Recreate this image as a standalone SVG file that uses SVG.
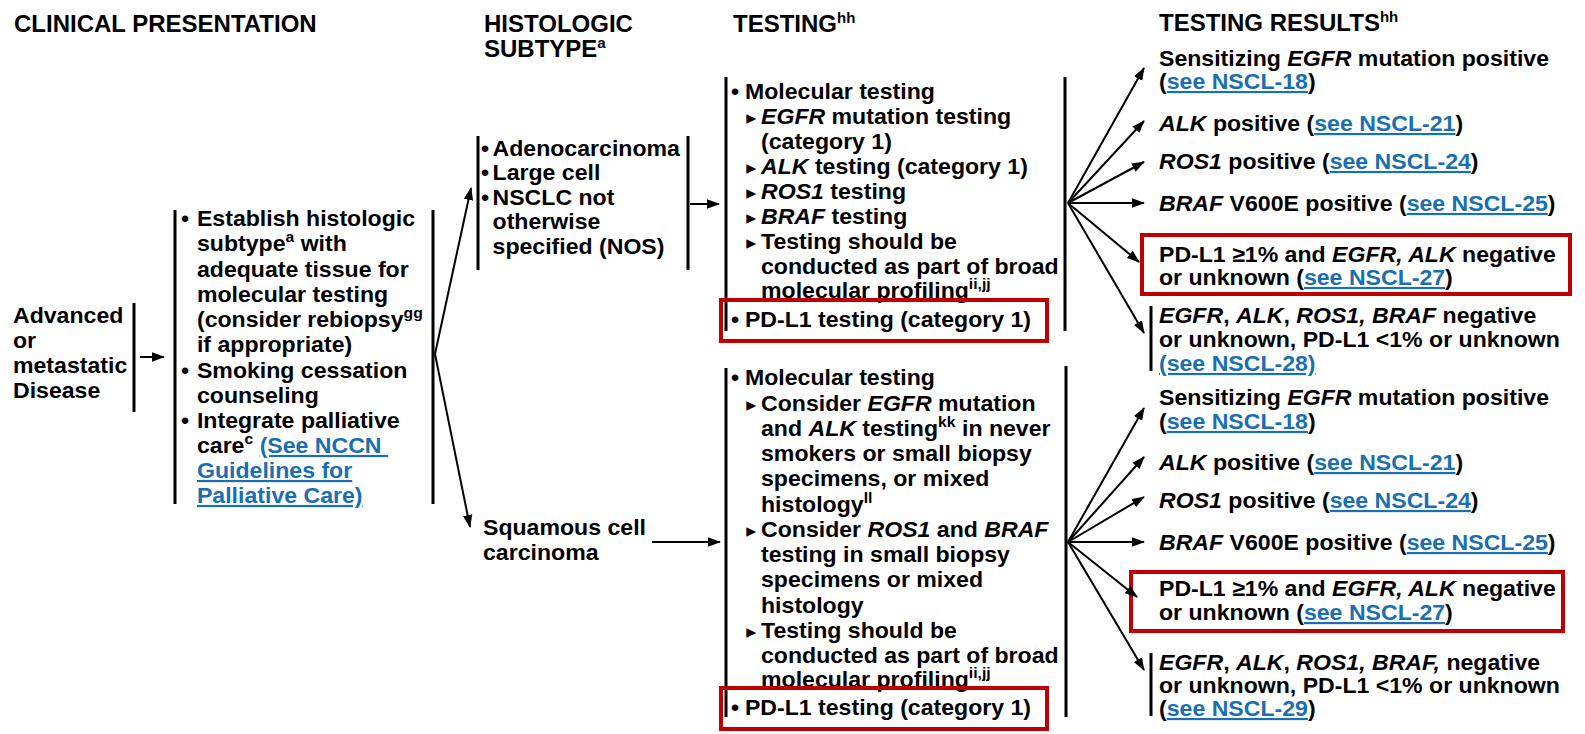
<svg xmlns="http://www.w3.org/2000/svg" width="1585" height="734" viewBox="0 0 1585 734">
<style>
.t{font-family:"Liberation Sans",Arial,Helvetica,sans-serif;font-weight:bold;font-size:22px;fill:#000}
.h{font-size:24px}
.i{font-style:italic}
.lk{fill:#1a6fb0;text-decoration:underline}
.s{font-size:15px}
.tri{font-family:"DejaVu Sans",sans-serif;font-size:19px}
.bar{stroke:#000;stroke-width:3;fill:none}
.con{stroke:#000;stroke-width:2;fill:none;marker-end:url(#ah)}
.red{fill:none;stroke:#C00000;stroke-width:4}
</style>
<defs>
<marker id="ah" markerWidth="13" markerHeight="10" refX="12" refY="5" orient="auto" markerUnits="userSpaceOnUse"><path d="M0,0.3 L13,5 L0,9.7 z" fill="#000"/></marker>
</defs>
<rect width="1585" height="734" fill="#fff"/>

<g id="headers">
<text class="t h" x="14" y="32">CLINICAL PRESENTATION</text>
<text class="t h" x="484" y="32">HISTOLOGIC</text>
<text class="t h" x="484" y="57">SUBTYPE<tspan class="s" y="48">a</tspan></text>
<text class="t h" x="733" y="32">TESTING<tspan class="s" y="23">hh</tspan></text>
<text class="t h" x="1159" y="31">TESTING RESULTS<tspan class="s" y="22">hh</tspan></text>
</g>

<g id="node-presentation">
<line class="bar" x1="134" y1="303" x2="134" y2="412"/>
<text class="t" transform="matrix(1.05 0 0 1 13 0)">
<tspan x="0" y="323">Advanced</tspan>
<tspan x="0" y="348">or</tspan>
<tspan x="0" y="373">metastatic</tspan>
<tspan x="0" y="398">Disease</tspan>
</text>
</g>

<g id="node-workup">
<line class="bar" x1="175" y1="210" x2="175" y2="504"/>
<line class="bar" x1="433" y1="210" x2="433" y2="504"/>
<text class="t" transform="matrix(1.05 0 0 1 181 0)">
<tspan x="0" y="226">•</tspan><tspan x="15.2" y="226">Establish histologic</tspan>
<tspan x="15.2" y="251">subtype</tspan><tspan class="s" y="242">a</tspan><tspan y="251"> with</tspan>
<tspan x="15.2" y="277">adequate tissue for</tspan>
<tspan x="15.2" y="302">molecular testing</tspan>
<tspan x="15.2" y="327">(consider rebiopsy</tspan><tspan class="s" y="318">gg</tspan>
<tspan x="15.2" y="352">if appropriate)</tspan>
<tspan x="0" y="378">•</tspan><tspan x="15.2" y="378">Smoking cessation</tspan>
<tspan x="15.2" y="403">counseling</tspan>
<tspan x="0" y="428">•</tspan><tspan x="15.2" y="428">Integrate palliative</tspan>
<tspan x="15.2" y="453">care</tspan><tspan class="s" y="444">c</tspan><tspan y="453" xml:space="preserve"> </tspan><tspan class="lk">(See NCCN </tspan>
<tspan x="15.2" y="478" class="lk">Guidelines for</tspan>
<tspan x="15.2" y="503" class="lk">Palliative Care)</tspan>
</text>
</g>

<g id="node-nonsquamous">
<line class="bar" x1="478" y1="136" x2="478" y2="270"/>
<line class="bar" x1="688" y1="136" x2="688" y2="270"/>
<text class="t" transform="matrix(1.05 0 0 1 481 0)">
<tspan x="0" y="156">•</tspan><tspan x="11" y="156">Adenocarcinoma</tspan>
<tspan x="0" y="180">•</tspan><tspan x="11" y="180">Large cell</tspan>
<tspan x="0" y="205">•</tspan><tspan x="11" y="205">NSCLC not</tspan>
<tspan x="11" y="229">otherwise</tspan>
<tspan x="11" y="254">specified (NOS)</tspan>
</text>
</g>

<g id="node-squamous">
<text class="t" transform="matrix(1.05 0 0 1 483 0)">
<tspan x="0" y="535">Squamous cell</tspan>
<tspan x="0" y="560">carcinoma</tspan>
</text>
</g>

<g id="node-testing-1">
<line class="bar" x1="726" y1="77" x2="726" y2="331"/>
<line class="bar" x1="1065" y1="77" x2="1065" y2="331"/>
<text class="t" transform="matrix(1.05 0 0 1 731 0)">
<tspan x="0" y="99">•</tspan><tspan x="13.3" y="99">Molecular testing</tspan>
<tspan x="14.5" y="124" class="tri">▸</tspan><tspan x="28.6" y="124"><tspan class="i">EGFR</tspan> mutation testing</tspan>
<tspan x="28.6" y="149">(category 1)</tspan>
<tspan x="14.5" y="174" class="tri">▸</tspan><tspan x="28.6" y="174"><tspan class="i">ALK</tspan> testing (category 1)</tspan>
<tspan x="14.5" y="199" class="tri">▸</tspan><tspan x="28.6" y="199"><tspan class="i">ROS1</tspan> testing</tspan>
<tspan x="14.5" y="224" class="tri">▸</tspan><tspan x="28.6" y="224"><tspan class="i">BRAF</tspan> testing</tspan>
<tspan x="14.5" y="249" class="tri">▸</tspan><tspan x="28.6" y="249">Testing should be</tspan>
<tspan x="28.6" y="274">conducted as part of broad</tspan>
<tspan x="28.6" y="298">molecular profiling</tspan><tspan class="s" y="289">ii,jj</tspan>
<tspan x="0" y="327">•</tspan><tspan x="13.3" y="327">PD-L1 testing (category 1)</tspan>
</text>
<rect class="red" x="721" y="300" width="326" height="41"/>
</g>

<g id="node-testing-2">
<line class="bar" x1="726" y1="368" x2="726" y2="717"/>
<line class="bar" x1="1066" y1="366" x2="1066" y2="717"/>
<text class="t" transform="matrix(1.05 0 0 1 731 0)">
<tspan x="0" y="385">•</tspan><tspan x="13.3" y="385">Molecular testing</tspan>
<tspan x="14.5" y="411" class="tri">▸</tspan><tspan x="28.6" y="411">Consider <tspan class="i">EGFR</tspan> mutation</tspan>
<tspan x="28.6" y="436">and <tspan class="i">ALK</tspan> testing</tspan><tspan class="s" y="427">kk</tspan><tspan y="436"> in never</tspan>
<tspan x="28.6" y="461">smokers or small biopsy</tspan>
<tspan x="28.6" y="486">specimens, or mixed</tspan>
<tspan x="28.6" y="512">histology</tspan><tspan class="s" y="503">ll</tspan>
<tspan x="14.5" y="537" class="tri">▸</tspan><tspan x="28.6" y="537">Consider <tspan class="i">ROS1</tspan> and <tspan class="i">BRAF</tspan></tspan>
<tspan x="28.6" y="562">testing in small biopsy</tspan>
<tspan x="28.6" y="587">specimens or mixed</tspan>
<tspan x="28.6" y="613">histology</tspan>
<tspan x="14.5" y="638" class="tri">▸</tspan><tspan x="28.6" y="638">Testing should be</tspan>
<tspan x="28.6" y="663">conducted as part of broad</tspan>
<tspan x="28.6" y="687">molecular profiling</tspan><tspan class="s" y="678">ii,jj</tspan>
<tspan x="0" y="715">•</tspan><tspan x="13.3" y="715">PD-L1 testing (category 1)</tspan>
</text>
<rect class="red" x="721" y="688" width="326" height="41"/>
</g>

<g id="node-results-1">
<line class="bar" x1="1151" y1="306" x2="1151" y2="371"/>
<text class="t" transform="matrix(1.05 0 0 1 1159 0)">
<tspan x="0" y="66">Sensitizing <tspan class="i">EGFR</tspan> mutation positive</tspan>
<tspan x="0" y="89">(<tspan class="lk">see NSCL-18</tspan>)</tspan>
<tspan x="0" y="131"><tspan class="i">ALK</tspan> positive (<tspan class="lk">see NSCL-21</tspan>)</tspan>
<tspan x="0" y="169"><tspan class="i">ROS1</tspan> positive (<tspan class="lk">see NSCL-24</tspan>)</tspan>
<tspan x="0" y="211"><tspan class="i">BRAF</tspan> V600E positive (<tspan class="lk">see NSCL-25</tspan>)</tspan>
<tspan x="0" y="262">PD-L1 ≥1% and <tspan class="i">EGFR, ALK</tspan> negative</tspan>
<tspan x="0" y="285">or unknown (<tspan class="lk">see NSCL-27</tspan>)</tspan>
<tspan x="0" y="323"><tspan class="i">EGFR</tspan>, <tspan class="i">ALK</tspan>, <tspan class="i">ROS1, BRAF</tspan> negative</tspan>
<tspan x="0" y="347">or unknown, PD-L1 &lt;1% or unknown</tspan>
<tspan x="0" y="371" class="lk">(see NSCL-28)</tspan>
</text>
<rect class="red" x="1142" y="235" width="428" height="59"/>
</g>

<g id="node-results-2">
<line class="bar" x1="1151" y1="653" x2="1151" y2="716"/>
<text class="t" transform="matrix(1.05 0 0 1 1159 0)">
<tspan x="0" y="405">Sensitizing <tspan class="i">EGFR</tspan> mutation positive</tspan>
<tspan x="0" y="429">(<tspan class="lk">see NSCL-18</tspan>)</tspan>
<tspan x="0" y="470"><tspan class="i">ALK</tspan> positive (<tspan class="lk">see NSCL-21</tspan>)</tspan>
<tspan x="0" y="508"><tspan class="i">ROS1</tspan> positive (<tspan class="lk">see NSCL-24</tspan>)</tspan>
<tspan x="0" y="550"><tspan class="i">BRAF</tspan> V600E positive (<tspan class="lk">see NSCL-25</tspan>)</tspan>
<tspan x="0" y="596">PD-L1 ≥1% and <tspan class="i">EGFR, ALK</tspan> negative</tspan>
<tspan x="0" y="620">or unknown (<tspan class="lk">see NSCL-27</tspan>)</tspan>
<tspan x="0" y="670"><tspan class="i">EGFR</tspan>, <tspan class="i">ALK</tspan>, <tspan class="i">ROS1, BRAF,</tspan> negative</tspan>
<tspan x="0" y="693">or unknown, PD-L1 &lt;1% or unknown</tspan>
<tspan x="0" y="716">(<tspan class="lk">see NSCL-29</tspan>)</tspan>
</text>
<rect class="red" x="1131" y="572" width="432" height="59"/>
</g>

<g id="connectors">
<line class="con" x1="140" y1="357" x2="164" y2="357"/>
<line class="con" x1="435" y1="354" x2="471" y2="188"/>
<line class="con" x1="435" y1="354" x2="470" y2="527"/>
<line class="con" x1="690" y1="204" x2="719" y2="204"/>
<line class="con" x1="652" y1="542" x2="720" y2="542"/>
<line class="con" x1="1068" y1="203" x2="1144" y2="68"/>
<line class="con" x1="1068" y1="203" x2="1144" y2="121"/>
<line class="con" x1="1068" y1="203" x2="1144" y2="162"/>
<line class="con" x1="1068" y1="203" x2="1144" y2="203"/>
<line class="con" x1="1068" y1="203" x2="1139" y2="262"/>
<line class="con" x1="1068" y1="203" x2="1144" y2="333"/>
<line class="con" x1="1068" y1="542" x2="1144" y2="408"/>
<line class="con" x1="1068" y1="542" x2="1144" y2="457"/>
<line class="con" x1="1068" y1="542" x2="1144" y2="497"/>
<line class="con" x1="1068" y1="542" x2="1144" y2="542"/>
<line class="con" x1="1068" y1="542" x2="1137" y2="597"/>
<line class="con" x1="1068" y1="542" x2="1144" y2="670"/>
</g>
</svg>
